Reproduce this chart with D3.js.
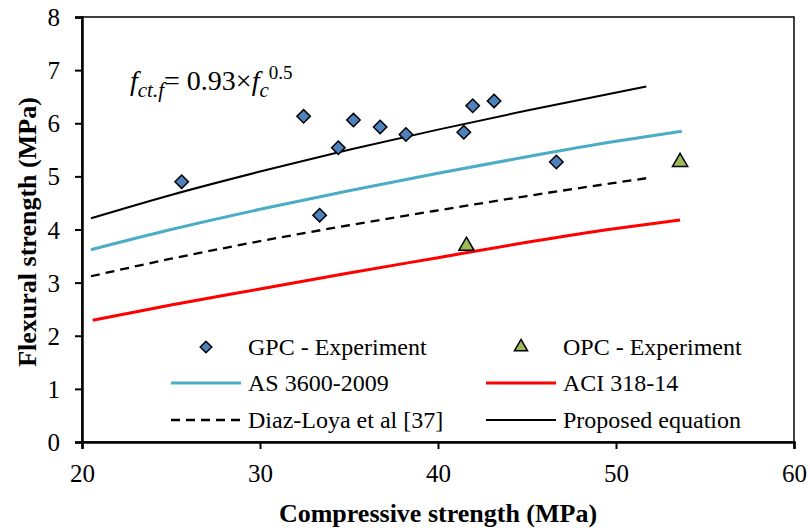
<!DOCTYPE html>
<html>
<head>
<meta charset="utf-8">
<script src="https://cdn.jsdelivr.net/npm/d3@7"></script>
<style>
  body { margin: 0; background: #fff; }
  text { font-family: "Liberation Serif", "Times New Roman", serif; }
</style>
</head>
<body>
<svg id="chart" width="810" height="530"></svg>
<script>
// Experimental points
const gpcStrength = [25.6, 32.45, 33.35, 34.4, 35.25, 36.75, 38.2, 41.45, 41.95, 43.15, 46.65];
const gpcFlexural = [4.9, 6.13, 4.27, 5.54, 6.06, 5.93, 5.79, 5.83, 6.33, 6.42, 5.27];
const opcStrength = [41.6, 53.6];
const opcFlexural = [3.69, 5.27];

// Code / model curves
const asX = [20.5, 25, 30, 35, 40, 45, 50, 53.7];
const asY = [3.62, 4.0, 4.38, 4.73, 5.06, 5.37, 5.66, 5.85];
const aciX = [20.6, 25, 30, 35, 40, 45, 50, 53.6];
const aciY = [2.29, 2.58, 2.88, 3.18, 3.47, 3.76, 4.02, 4.18];
const diazX = [20.5, 25, 30, 35, 40, 45, 51.8];
const diazY = [3.12, 3.45, 3.78, 4.08, 4.36, 4.63, 4.97];
const propX = [20.5, 25, 30, 35, 40, 45, 51.7];
const propY = [4.21, 4.65, 5.09, 5.5, 5.88, 6.24, 6.69];

const xTicks = [20, 30, 40, 50, 60];
const yTicks = [0, 1, 2, 3, 4, 5, 6, 7, 8];

const svg = d3.select('#chart');

// plot box
const margin = { top: 17, right: 16, bottom: 88, left: 82 };
const width = +svg.attr('width');
const height = +svg.attr('height');
const innerWidth = width - margin.left - margin.right;
const innerHeight = height - margin.top - margin.bottom;

const xScale = d3.scaleLinear().domain([20, 60]).range([0, innerWidth]);
const yScale = d3.scaleLinear().domain([0, 8]).range([innerHeight, 0]);

const g = svg.append('g')
  .attr('transform', `translate(${margin.left}, ${margin.top})`);

// frame
g.append('rect')
  .attr('width', innerWidth)
  .attr('height', innerHeight)
  .attr('fill', 'none')
  .attr('stroke', '#000')
  .attr('stroke-width', 1.5);

// axes
const xAxis = g.append('g')
  .attr('transform', `translate(0, ${innerHeight})`)
  .call(d3.axisBottom(xScale).tickValues(xTicks).tickSize(7).tickPadding(15).tickFormat(d3.format('d')));
const yAxis = g.append('g')
  .call(d3.axisLeft(yScale).tickValues(yTicks).tickSize(7).tickPadding(15).tickFormat(d3.format('d')));

[xAxis, yAxis].forEach(ax => {
  ax.select('.domain').attr('stroke-width', 2.5);
  ax.selectAll('.tick line').attr('stroke-width', 2);
  ax.selectAll('.tick text')
    .attr('font-size', 25)
    .attr('fill', '#000');
});
yAxis.selectAll('.tick text').attr('dy', '0.34em');

// curves
const toPts = (xs, ys) => xs.map((x, i) => [x, ys[i]]);
const line = d3.line().x(d => xScale(d[0])).y(d => yScale(d[1])).curve(d3.curveMonotoneX);

const curves = [
  { pts: toPts(asX, asY), color: '#4BACC6', w: 3, dash: null },
  { pts: toPts(aciX, aciY), color: '#FF0000', w: 3, dash: null },
  { pts: toPts(diazX, diazY), color: '#000', w: 2.3, dash: '9,6' },
  { pts: toPts(propX, propY), color: '#000', w: 2, dash: null }
];

curves.forEach(c => {
  g.append('path')
    .datum(c.pts)
    .attr('d', line)
    .attr('fill', 'none')
    .attr('stroke', c.color)
    .attr('stroke-width', c.w)
    .attr('stroke-dasharray', c.dash);
});

// markers
const diamond = d3.symbol().type(d3.symbolDiamond2).size(115);
const triangle = d3.symbol().type(d3.symbolTriangle).size(100);

g.selectAll('.gpc').data(toPts(gpcStrength, gpcFlexural))
  .enter().append('path')
  .attr('class', 'gpc')
  .attr('d', diamond)
  .attr('transform', d => `translate(${xScale(d[0])}, ${yScale(d[1])})`)
  .attr('fill', '#4F81BD')
  .attr('stroke', '#000')
  .attr('stroke-width', 1.5);

g.selectAll('.opc').data(toPts(opcStrength, opcFlexural))
  .enter().append('path')
  .attr('class', 'opc')
  .attr('d', triangle)
  .attr('transform', d => `translate(${xScale(d[0])}, ${yScale(d[1])})`)
  .attr('fill', '#9BBB59')
  .attr('stroke', '#000')
  .attr('stroke-width', 1.5);

// equation annotation
const eq = svg.append('text')
  .attr('x', 130)
  .attr('y', 90)
  .attr('font-size', 28);
eq.append('tspan').attr('font-style', 'italic').text('f');
eq.append('tspan').attr('font-style', 'italic').attr('font-size', 21).attr('dy', 7).text('ct.f');
eq.append('tspan').attr('dy', -7).text('= 0.93×');
eq.append('tspan').attr('font-style', 'italic').text('f');
eq.append('tspan').attr('font-style', 'italic').attr('font-size', 21).attr('dy', 7).text('c');
eq.append('tspan').attr('font-size', 19).attr('dy', -18).text('0.5');

// legend
const legend = svg.append('g');
const legendItems = [
  { label: 'GPC - Experiment', kind: 'diamond', x: 171, y: 347 },
  { label: 'OPC - Experiment', kind: 'triangle', x: 486, y: 347 },
  { label: 'AS 3600-2009', kind: 'line', color: '#4BACC6', w: 3, x: 171, y: 383 },
  { label: 'ACI 318-14', kind: 'line', color: '#FF0000', w: 3, x: 486, y: 383 },
  { label: 'Diaz-Loya et al [37]', kind: 'line', color: '#000', w: 2.3, dash: '9,6', x: 171, y: 420 },
  { label: 'Proposed equation', kind: 'line', color: '#000', w: 2, x: 486, y: 420 }
];

legendItems.forEach(d => {
  const item = legend.append('g').attr('transform', `translate(${d.x}, ${d.y})`);
  if (d.kind === 'line') {
    item.append('line')
      .attr('x1', 0).attr('x2', 70)
      .attr('stroke', d.color)
      .attr('stroke-width', d.w)
      .attr('stroke-dasharray', d.dash || null);
  } else {
    item.append('path')
      .attr('d', d.kind === 'diamond' ? d3.symbol().type(d3.symbolDiamond2).size(85)() : d3.symbol().type(d3.symbolTriangle).size(75)())
      .attr('transform', 'translate(35, 0)')
      .attr('fill', d.kind === 'diamond' ? '#4F81BD' : '#9BBB59')
      .attr('stroke', '#000')
      .attr('stroke-width', 1.5);
  }
  item.append('text')
    .attr('x', 77)
    .attr('y', 0)
    .attr('dy', '0.35em')
    .attr('font-size', 24)
    .text(d.label);
});

// axis titles
svg.append('text')
  .attr('x', margin.left + innerWidth / 2)
  .attr('y', 522)
  .attr('text-anchor', 'middle')
  .attr('font-size', 26)
  .attr('font-weight', 'bold')
  .text('Compressive strength (MPa)');

svg.append('text')
  .attr('transform', 'translate(36, 232) rotate(-90)')
  .attr('text-anchor', 'middle')
  .attr('font-size', 26)
  .attr('font-weight', 'bold')
  .text('Flexural strength (MPa)');
</script>
</body>
</html>
